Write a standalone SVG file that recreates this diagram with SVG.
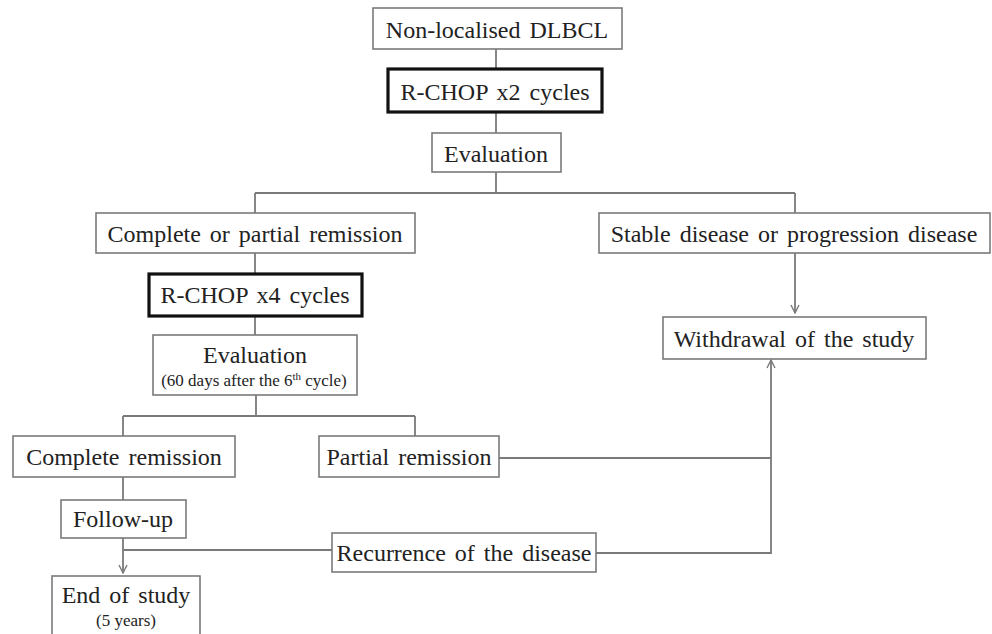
<svg xmlns="http://www.w3.org/2000/svg" width="992" height="634" viewBox="0 0 992 634">
<defs>
<style>
.box{fill:#fff;stroke:#7a7a7a;stroke-width:1.6}
.tbox{fill:#fff;stroke:#111;stroke-width:3.2}
.t{font-family:"Liberation Serif","Times New Roman",serif;font-size:24px;fill:#222;text-anchor:middle;word-spacing:3px}
.s{font-family:"Liberation Serif","Times New Roman",serif;font-size:17px;fill:#222;text-anchor:middle}
.ln{fill:none;stroke:#7a7a7a;stroke-width:1.8}
</style>
<marker id="arr" viewBox="0 0 10 10" refX="9" refY="5" markerWidth="10" markerHeight="10" markerUnits="userSpaceOnUse" orient="auto">
<path d="M1,1 L9,5 L1,9" fill="none" stroke="#7a7a7a" stroke-width="1.4"/>
</marker>
</defs>
<rect width="992" height="634" fill="#fff"/>
<g id="connectors">
<path class="ln" d="M496,49 V69"/>
<path class="ln" d="M496,112 V133"/>
<path class="ln" d="M496,172 V193 M255,193 H795 M255,193 V213 M795,193 V213"/>
<path class="ln" d="M255,253 V274"/>
<path class="ln" d="M255,316 V335"/>
<path class="ln" d="M795,253 V313" marker-end="url(#arr)"/>
<path class="ln" d="M256,395 V416 M123,416 H415 M123,416 V436 M415,416 V436"/>
<path class="ln" d="M123,477 V500"/>
<path class="ln" d="M123,538 V573" marker-end="url(#arr)"/>
<path class="ln" d="M123,550 H332"/>
<path class="ln" d="M499,458 H771"/>
<path class="ln" d="M596,553 H771 V360" marker-end="url(#arr)"/>
</g>
<g id="n1"><rect class="box" x="373" y="8" width="249" height="41"/><text class="t" x="497" y="38">Non-localised DLBCL</text></g>
<g id="n2"><rect class="tbox" x="388" y="69" width="214" height="43"/><text class="t" x="495" y="100">R-CHOP x2 cycles</text></g>
<g id="n3"><rect class="box" x="432" y="133" width="129" height="39"/><text class="t" x="496" y="162">Evaluation</text></g>
<g id="n4"><rect class="box" x="96" y="213" width="319" height="40"/><text class="t" x="255" y="242">Complete or partial remission</text></g>
<g id="n5"><rect class="box" x="599" y="213" width="391" height="40"/><text class="t" x="794" y="242">Stable disease or progression disease</text></g>
<g id="n6"><rect class="tbox" x="149" y="274" width="213" height="42"/><text class="t" x="255" y="303">R-CHOP x4 cycles</text></g>
<g id="n7"><rect class="box" x="663" y="317" width="263" height="42"/><text class="t" x="794" y="347">Withdrawal of the study</text></g>
<g id="n8"><rect class="box" x="153" y="335" width="204" height="60"/><text class="t" x="255" y="363">Evaluation</text><text class="s" x="254" y="386">(60 days after the 6<tspan font-size="11" dy="-6">th</tspan><tspan dy="6"> cycle)</tspan></text></g>
<g id="n9"><rect class="box" x="13" y="436" width="222" height="41"/><text class="t" x="124" y="465">Complete remission</text></g>
<g id="n10"><rect class="box" x="319" y="436" width="180" height="41"/><text class="t" x="409" y="465">Partial remission</text></g>
<g id="n11"><rect class="box" x="61" y="500" width="125" height="38"/><text class="t" x="123" y="527">Follow-up</text></g>
<g id="n12"><rect class="box" x="332" y="533" width="264" height="39"/><text class="t" x="464" y="561">Recurrence of the disease</text></g>
<g id="n13"><rect class="box" x="52" y="576" width="148" height="70"/><text class="t" x="126" y="603">End of study</text><text class="s" x="126" y="626">(5 years)</text></g>
</svg>
